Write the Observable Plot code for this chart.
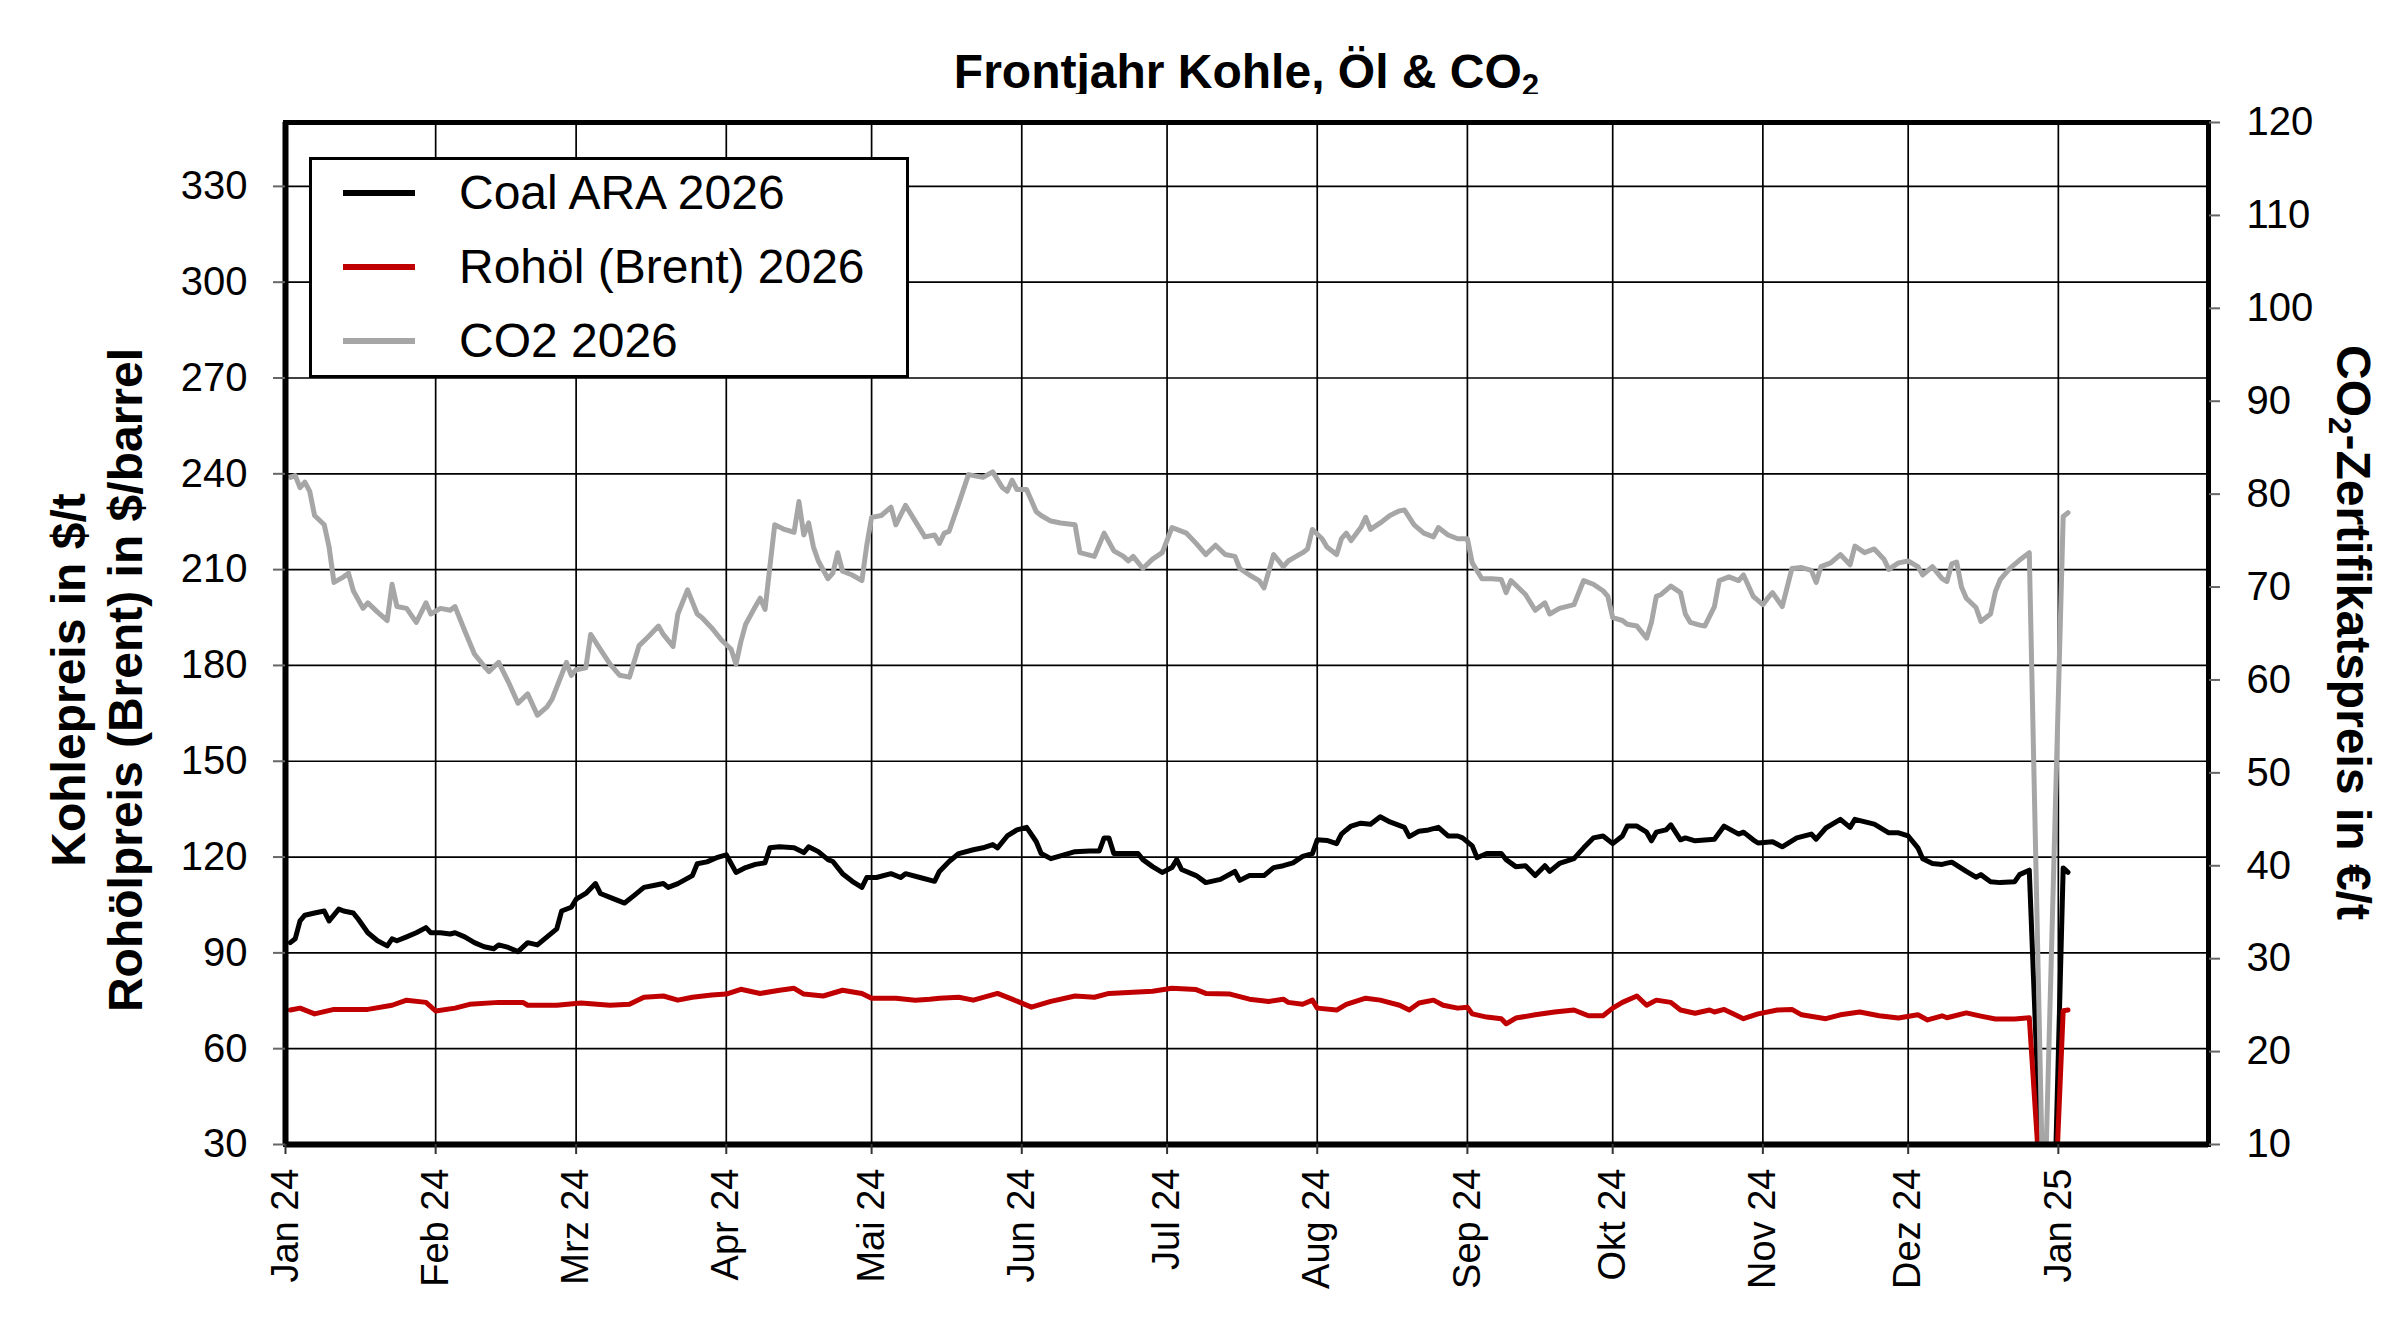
<!DOCTYPE html>
<html>
<head>
<meta charset="utf-8">
<script src="https://cdn.jsdelivr.net/npm/d3@7"></script>
<script src="https://cdn.jsdelivr.net/npm/@observablehq/plot@0.6"></script>
<style>
  html, body { margin: 0; padding: 0; background: #fff; }
  #page { position: relative; width: 2400px; height: 1319px; overflow: hidden; background: #fff;
          font-family: "Liberation Sans", Arial, sans-serif; color: #000; }
  #title { position: absolute; left: 285px; width: 1923px; top: 44px; text-align: center;
           font-size: 48px; line-height: 55px; font-weight: bold; white-space: nowrap; }
  sub { font-size: 0.65em; vertical-align: -0.25em; line-height: 0; }
  #chart { position: absolute; left: 0; top: 94px; }
  #legend { position: absolute; left: 309px; top: 157px; width: 600px; height: 221px;
            box-sizing: border-box; border: 3px solid #000; background: #fff; }
  .lg-line { position: absolute; left: 31px; width: 72px; height: 6px; }
  .lg-text { position: absolute; left: 147px; font-size: 48px; line-height: 56px; white-space: nowrap; }
  .ytitle { position: absolute; font-size: 48px; font-weight: bold; text-align: center; white-space: nowrap; }
  #ytitleL { left: -303px; top: 623px; width: 800px; line-height: 57px; transform: rotate(-90deg); }
  #ytitleR { left: 1953px; top: 604px; width: 800px; line-height: 57px; transform: rotate(90deg); }
</style>
</head>
<body>
<div id="page">
  <div id="title">Frontjahr Kohle, Öl &amp; CO<sub>2</sub></div>
  <div id="chart"></div>
  <div id="legend"></div>
  <div class="ytitle" id="ytitleL">Kohlepreis in $/t<br>Rohölpreis (Brent) in $/barrel</div>
  <div class="ytitle" id="ytitleR">CO<sub>2</sub>-Zertifikatspreis in €/t</div>
</div>
<script>
// ---- tick labels / axis values ----
const leftTicks = [30, 60, 90, 120, 150, 180, 210, 240, 270, 300, 330];
const leftDomain = [30, 350];
const rightTicks = [10, 20, 30, 40, 50, 60, 70, 80, 90, 100, 110, 120];
const rightDomain = [10, 120];
const monthStarts = ["2024-01-01","2024-02-01","2024-03-01","2024-04-01","2024-05-01","2024-06-01",
  "2024-07-01","2024-08-01","2024-09-01","2024-10-01","2024-11-01","2024-12-01","2025-01-01"];
const monthLabels = ["Jan 24","Feb 24","Mrz 24","Apr 24","Mai 24","Jun 24","Jul 24","Aug 24",
  "Sep 24","Okt 24","Nov 24","Dez 24","Jan 25"];
const xDomain = ["2024-01-01", "2025-02-01"];

// ---- series names ----
const seriesNames = ["Coal ARA 2026", "Rohöl (Brent) 2026", "CO2 2026"];
const seriesColors = ["#000000", "#c00000", "#a6a6a6"];

// ---- Coal ARA 2026 ($/t) ----
const coal = [
["2024-01-02",93.2],["2024-01-03",94.4],["2024-01-04",100],["2024-01-05",101.8],["2024-01-07",102.5],["2024-01-09",103.1],["2024-01-10",100],["2024-01-12",103.7],["2024-01-13",103.1],["2024-01-15",102.5],["2024-01-16",100.6],["2024-01-18",96.3],["2024-01-20",93.8],["2024-01-22",92.2],["2024-01-23",94.4],["2024-01-24",93.8],["2024-01-26",95],["2024-01-28",96.3],["2024-01-30",97.9],["2024-01-31",96.3],
["2024-02-02",96.3],["2024-02-04",95.9],["2024-02-05",96.3],["2024-02-07",95],["2024-02-09",93.2],["2024-02-11",91.9],["2024-02-13",91.3],["2024-02-14",92.5],["2024-02-16",91.7],["2024-02-18",90.4],["2024-02-20",93.2],["2024-02-22",92.5],["2024-02-24",95],["2024-02-26",97.5],["2024-02-27",103.1],["2024-02-29",104.3],
["2024-03-01",106.8],["2024-03-03",108.6],["2024-03-05",111.7],["2024-03-06",108.6],["2024-03-08",107.4],["2024-03-11",105.6],["2024-03-13",108],["2024-03-15",110.5],["2024-03-17",111.1],["2024-03-19",111.7],["2024-03-20",110.5],["2024-03-22",111.7],["2024-03-25",114.2],["2024-03-26",117.9],["2024-03-28",118.5],["2024-03-30",119.8],
["2024-04-01",120.7],["2024-04-03",115.2],["2024-04-05",116.7],["2024-04-07",117.7],["2024-04-09",118.2],["2024-04-10",122.9],["2024-04-12",123.2],["2024-04-15",122.9],["2024-04-17",121.4],["2024-04-18",123.2],["2024-04-20",121.7],["2024-04-22",119.2],["2024-04-23",118.6],["2024-04-25",114.8],["2024-04-27",112.4],["2024-04-29",110.5],["2024-04-30",113.6],
["2024-05-02",113.6],["2024-05-05",114.8],["2024-05-07",113.6],["2024-05-08",114.8],["2024-05-11",113.6],["2024-05-14",112.4],["2024-05-15",115.5],["2024-05-17",118.6],["2024-05-19",121.1],["2024-05-22",122.3],["2024-05-24",122.9],["2024-05-26",123.9],["2024-05-27",122.9],["2024-05-29",126.6],["2024-05-31",128.5],
["2024-06-02",129.3],["2024-06-04",124.8],["2024-06-05",121.1],["2024-06-07",119.5],["2024-06-09",120.4],["2024-06-12",121.7],["2024-06-15",121.9],["2024-06-17",121.9],["2024-06-18",126],["2024-06-19",126],["2024-06-20",121.1],["2024-06-23",121.1],["2024-06-25",121.1],["2024-06-26",119.2],["2024-06-28",117],["2024-06-30",115.2],
["2024-07-02",116.7],["2024-07-03",119.2],["2024-07-04",116.1],["2024-07-07",114.2],["2024-07-09",112],["2024-07-12",113],["2024-07-15",115.5],["2024-07-16",112.7],["2024-07-18",114.2],["2024-07-21",114.2],["2024-07-23",116.7],["2024-07-25",117.3],["2024-07-27",118.2],["2024-07-29",120.2],["2024-07-31",121.1],
["2024-08-01",125.4],["2024-08-03",125.2],["2024-08-05",124.2],["2024-08-06",127.2],["2024-08-07",128.5],["2024-08-08",129.7],["2024-08-10",130.6],["2024-08-12",130.3],["2024-08-14",132.6],["2024-08-16",131],["2024-08-19",129.3],["2024-08-20",126.4],["2024-08-22",128.1],["2024-08-24",128.5],["2024-08-26",129.3],["2024-08-28",126.6],["2024-08-30",126.6],["2024-08-31",126],
["2024-09-02",123.5],["2024-09-03",119.8],["2024-09-05",121.1],["2024-09-08",121.1],["2024-09-09",119.2],["2024-09-11",117],["2024-09-13",117.3],["2024-09-15",114.2],["2024-09-17",117.3],["2024-09-18",115.5],["2024-09-20",118],["2024-09-23",119.5],["2024-09-25",122.9],["2024-09-27",126],["2024-09-29",126.6],
["2024-10-01",124.2],["2024-10-03",126.6],["2024-10-04",129.7],["2024-10-06",129.7],["2024-10-08",127.8],["2024-10-09",125.1],["2024-10-10",127.8],["2024-10-12",128.5],["2024-10-13",130.1],["2024-10-15",125.4],["2024-10-16",126],["2024-10-18",125.1],["2024-10-22",125.6],["2024-10-24",129.7],["2024-10-27",127.2],["2024-10-28",127.8],["2024-10-30",125.4],["2024-10-31",124.4],
["2024-11-03",124.8],["2024-11-05",123.2],["2024-11-08",126],["2024-11-11",127.2],["2024-11-12",125.6],["2024-11-14",129.1],["2024-11-17",131.8],["2024-11-19",129.3],["2024-11-20",131.8],["2024-11-24",130.3],["2024-11-27",127.6],["2024-11-29",127.6],
["2024-12-01",126.6],["2024-12-03",122.9],["2024-12-04",119.5],["2024-12-06",118],["2024-12-08",117.7],["2024-12-09",118.1],["2024-12-10",118.4],["2024-12-13",115.5],["2024-12-15",113.7],["2024-12-16",114.5],["2024-12-18",112.3],["2024-12-20",112],["2024-12-23",112.3],["2024-12-24",114.5],["2024-12-26",115.9],
["2024-12-29",0],["2024-12-30",0],["2024-12-31",0],["2025-01-02",116.6],["2025-01-03",115.2]
];

// ---- Rohöl (Brent) 2026 ($/barrel) ----
const oil = [
["2024-01-02",72.1],["2024-01-04",72.7],["2024-01-07",70.9],["2024-01-11",72.3],["2024-01-18",72.3],["2024-01-23",73.6],["2024-01-26",75.2],["2024-01-30",74.5],
["2024-02-01",71.8],["2024-02-05",72.7],["2024-02-08",73.9],["2024-02-14",74.5],["2024-02-19",74.5],["2024-02-20",73.6],["2024-02-26",73.6],
["2024-03-02",74.3],["2024-03-08",73.6],["2024-03-12",73.9],["2024-03-15",76.1],["2024-03-19",76.5],["2024-03-22",75.2],["2024-03-25",76.1],["2024-03-29",76.8],
["2024-04-01",77.1],["2024-04-04",78.6],["2024-04-08",77.3],["2024-04-12",78.3],["2024-04-15",78.9],["2024-04-17",77.1],["2024-04-21",76.5],["2024-04-25",78.3],["2024-04-29",77.3],
["2024-05-01",75.8],["2024-05-06",75.8],["2024-05-10",75.2],["2024-05-13",75.5],["2024-05-15",75.8],["2024-05-19",76.1],["2024-05-22",75.2],["2024-05-27",77.3],["2024-05-30",75.5],
["2024-06-03",73],["2024-06-07",74.8],["2024-06-12",76.5],["2024-06-16",76.1],["2024-06-19",77.3],["2024-06-24",77.7],["2024-06-28",78],
["2024-07-02",78.9],["2024-07-07",78.5],["2024-07-09",77.3],["2024-07-14",77.1],["2024-07-18",75.5],["2024-07-22",74.8],["2024-07-25",75.5],["2024-07-26",74.5],["2024-07-29",73.9],["2024-07-31",75.2],
["2024-08-01",72.7],["2024-08-05",72.1],["2024-08-07",73.9],["2024-08-11",75.8],["2024-08-14",75.2],["2024-08-18",73.6],["2024-08-20",72.1],["2024-08-22",74.3],["2024-08-25",75.2],["2024-08-27",73.6],["2024-08-30",72.7],
["2024-09-01",73],["2024-09-02",70.9],["2024-09-05",69.9],["2024-09-08",69.4],["2024-09-09",67.8],["2024-09-11",69.6],["2024-09-15",70.6],["2024-09-19",71.5],["2024-09-23",72.1],["2024-09-26",70.3],["2024-09-29",70.3],
["2024-10-01",72.7],["2024-10-03",74.5],["2024-10-06",76.5],["2024-10-08",73.6],["2024-10-10",75.2],["2024-10-13",74.5],["2024-10-15",72.1],["2024-10-18",71.1],["2024-10-21",72.1],["2024-10-22",71.5],["2024-10-24",72.3],["2024-10-28",69.4],["2024-10-31",70.9],
["2024-11-04",72.1],["2024-11-07",72.3],["2024-11-09",70.6],["2024-11-14",69.4],["2024-11-17",70.6],["2024-11-21",71.5],["2024-11-25",70.3],["2024-11-29",69.6],
["2024-12-03",70.6],["2024-12-05",69],["2024-12-08",70.3],["2024-12-09",69.7],["2024-12-13",71.2],["2024-12-16",70.2],["2024-12-19",69.3],["2024-12-23",69.3],["2024-12-26",69.7],
["2024-12-29",0],["2024-12-30",0],["2024-12-31",0],["2025-01-02",71.9],["2025-01-03",72.1]
];

// ---- CO2 2026 (€/t, right axis) ----
const co2 = [
["2024-01-02",81.8],["2024-01-03",82.0],["2024-01-04",80.7],["2024-01-05",81.3],["2024-01-06",80.3],["2024-01-07",77.7],["2024-01-09",76.7],["2024-01-10",74.3],["2024-01-11",70.5],["2024-01-13",71.1],["2024-01-14",71.5],["2024-01-15",69.6],["2024-01-17",67.7],["2024-01-18",68.3],["2024-01-20",67.3],["2024-01-22",66.4],["2024-01-23",70.3],["2024-01-24",67.9],["2024-01-26",67.7],["2024-01-28",66.2],["2024-01-30",68.3],["2024-01-31",67.1],
["2024-02-02",67.7],["2024-02-04",67.5],["2024-02-05",67.9],["2024-02-07",65.3],["2024-02-09",62.8],["2024-02-11",61.5],["2024-02-12",60.9],["2024-02-14",61.9],["2024-02-16",59.8],["2024-02-18",57.5],["2024-02-20",58.5],["2024-02-22",56.2],["2024-02-24",57.1],["2024-02-25",57.9],["2024-02-28",61.9],["2024-02-29",60.5],
["2024-03-01",61.1],["2024-03-03",61.3],["2024-03-04",64.9],["2024-03-06",63.3],["2024-03-08",61.7],["2024-03-10",60.5],["2024-03-12",60.3],["2024-03-14",63.7],["2024-03-16",64.7],["2024-03-18",65.8],["2024-03-19",64.9],["2024-03-21",63.6],["2024-03-22",67.1],["2024-03-24",69.7],["2024-03-26",67.1],["2024-03-27",66.7],["2024-03-29",65.6],["2024-03-31",64.3],
["2024-04-02",63.3],["2024-04-03",61.7],["2024-04-04",64.1],["2024-04-05",66.0],["2024-04-07",67.9],["2024-04-08",68.8],["2024-04-09",67.6],["2024-04-10",72.2],["2024-04-11",76.7],["2024-04-13",76.2],["2024-04-15",75.9],["2024-04-16",79.2],["2024-04-17",75.6],["2024-04-18",76.9],["2024-04-19",74.3],["2024-04-20",72.8],["2024-04-22",70.9],["2024-04-23",71.5],["2024-04-24",73.7],["2024-04-25",71.7],["2024-04-27",71.3],["2024-04-29",70.7],["2024-04-30",74.5],
["2024-05-01",77.5],["2024-05-03",77.7],["2024-05-05",78.6],["2024-05-06",76.7],["2024-05-08",78.8],["2024-05-10",77.1],["2024-05-12",75.4],["2024-05-14",75.6],["2024-05-15",74.7],["2024-05-16",75.8],["2024-05-17",76.0],["2024-05-19",79.0],["2024-05-21",82.1],["2024-05-24",81.8],["2024-05-26",82.4],["2024-05-28",80.7],["2024-05-29",80.3],["2024-05-30",81.5],["2024-05-31",80.5],
["2024-06-02",80.5],["2024-06-04",78.1],["2024-06-05",77.7],["2024-06-07",77.1],["2024-06-09",76.9],["2024-06-12",76.7],["2024-06-13",73.7],["2024-06-16",73.3],["2024-06-18",75.8],["2024-06-20",73.9],["2024-06-22",73.3],["2024-06-23",72.8],["2024-06-24",73.3],["2024-06-26",72.0],["2024-06-28",73.0],["2024-06-30",73.7],
["2024-07-02",76.4],["2024-07-03",76.2],["2024-07-05",75.8],["2024-07-07",74.7],["2024-07-09",73.5],["2024-07-11",74.5],["2024-07-13",73.5],["2024-07-15",73.3],["2024-07-16",72.0],["2024-07-18",71.3],["2024-07-20",70.7],["2024-07-21",69.9],["2024-07-23",73.5],["2024-07-25",72.2],["2024-07-26",72.8],["2024-07-28",73.4],["2024-07-29",73.7],["2024-07-30",74.1],["2024-07-31",76.2],
["2024-08-02",75.2],["2024-08-03",74.3],["2024-08-05",73.5],["2024-08-06",75.2],["2024-08-07",75.8],["2024-08-08",75.0],["2024-08-10",76.4],["2024-08-11",77.5],["2024-08-12",76.2],["2024-08-14",76.9],["2024-08-16",77.7],["2024-08-18",78.2],["2024-08-19",78.3],["2024-08-21",76.7],["2024-08-23",75.8],["2024-08-25",75.4],["2024-08-26",76.4],["2024-08-28",75.6],["2024-08-30",75.2],
["2024-09-01",75.2],["2024-09-02",72.6],["2024-09-04",70.9],["2024-09-06",70.9],["2024-09-08",70.8],["2024-09-09",69.4],["2024-09-10",70.7],["2024-09-13",69.2],["2024-09-15",67.5],["2024-09-17",68.3],["2024-09-18",67.1],["2024-09-20",67.7],["2024-09-23",68.1],["2024-09-25",70.7],["2024-09-27",70.3],["2024-09-29",69.6],["2024-09-30",69.0],
["2024-10-01",66.7],["2024-10-03",66.4],["2024-10-04",66.0],["2024-10-06",65.8],["2024-10-08",64.5],["2024-10-09",66.2],["2024-10-10",69.0],["2024-10-11",69.2],["2024-10-13",70.1],["2024-10-15",69.4],["2024-10-16",67.1],["2024-10-17",66.2],["2024-10-19",65.9],["2024-10-20",65.8],["2024-10-22",67.9],["2024-10-23",70.7],["2024-10-25",71.1],["2024-10-27",70.7],["2024-10-28",71.3],["2024-10-30",69.0],
["2024-11-01",68.1],["2024-11-02",68.8],["2024-11-03",69.4],["2024-11-05",67.9],["2024-11-07",72.0],["2024-11-09",72.1],["2024-11-11",71.8],["2024-11-12",70.5],["2024-11-13",72.2],["2024-11-15",72.6],["2024-11-17",73.5],["2024-11-19",72.4],["2024-11-20",74.4],["2024-11-22",73.7],["2024-11-24",74.1],["2024-11-26",73.0],["2024-11-27",71.9],["2024-11-29",72.6],
["2024-12-01",72.8],["2024-12-03",72.2],["2024-12-04",71.3],["2024-12-06",72.2],["2024-12-08",70.9],["2024-12-09",70.6],["2024-12-10",72.5],["2024-12-11",72.7],["2024-12-12",70.0],["2024-12-13",68.8],["2024-12-15",67.8],["2024-12-16",66.3],["2024-12-18",67.1],["2024-12-19",69.5],["2024-12-20",70.8],["2024-12-22",72.0],["2024-12-24",72.9],["2024-12-26",73.7],
["2024-12-29",0],["2025-01-02",77.6],["2025-01-03",78.0]
];

// ---- secondary axis mapping (right scale -> left scale) ----
const toLeft = r => leftDomain[0] + (r - rightDomain[0]) * (leftDomain[1] - leftDomain[0]) / (rightDomain[1] - rightDomain[0]);
const toRight = v => rightDomain[0] + (v - leftDomain[0]) * (rightDomain[1] - rightDomain[0]) / (leftDomain[1] - leftDomain[0]);

const parse = s => new Date(s + "T00:00:00Z");
const monthDates = monthStarts.map(parse);
const labelByTime = new Map(monthDates.map((d, i) => [+d, monthLabels[i]]));

const svgHeight = 1225;
const chart = Plot.plot({
  width: 2400,
  height: svgHeight,
  marginLeft: 285,
  marginRight: 192,
  marginTop: 28,
  marginBottom: 175,
  style: { fontFamily: "'Liberation Sans', Arial, sans-serif", fontSize: "40px", color: "#000", background: "#fff", overflow: "visible" },
  x: { type: "utc", domain: xDomain.map(parse) },
  y: { domain: leftDomain },
  marks: [
    Plot.gridY(leftTicks, { stroke: "#000", strokeOpacity: 1, strokeWidth: 1.7 }),
    Plot.gridX(monthDates, { stroke: "#000", strokeOpacity: 1, strokeWidth: 1.7 }),
    Plot.line(coal, { x: d => parse(d[0]), y: d => d[1], stroke: seriesColors[0], strokeWidth: 5, strokeLinejoin: "round", clip: true }),
    Plot.line(oil, { x: d => parse(d[0]), y: d => d[1], stroke: seriesColors[1], strokeWidth: 5, strokeLinejoin: "round", clip: true }),
    Plot.line(co2, { x: d => parse(d[0]), y: d => toLeft(d[1]), stroke: seriesColors[2], strokeWidth: 5, strokeLinejoin: "round", clip: true }),
    Plot.frame({ stroke: "#000", strokeWidth: 5 }),
    Plot.ruleY([leftDomain[0]], { stroke: "#000", strokeWidth: 6 }),
    Plot.ruleX([parse(xDomain[0])], { stroke: "#000", strokeWidth: 6 }),
    Plot.axisY(leftTicks, { anchor: "left", tickSize: 12, tickPadding: 26, stroke: "#666", strokeWidth: 2, fontSize: 40, label: null }),
    Plot.axisY(rightTicks.map(toLeft), { anchor: "right", tickSize: 11, tickPadding: 27, stroke: "#666", strokeWidth: 2, fontSize: 40, label: null,
      tickFormat: v => String(Math.round(toRight(v))) }),
    Plot.axisX(monthDates, { anchor: "bottom", tickSize: 10, tickPadding: 14, tickRotate: -90, stroke: "#333", strokeWidth: 2, fontSize: 38, label: null,
      tickFormat: d => labelByTime.get(+d) })
  ]
});
document.getElementById("chart").appendChild(chart);

// ---- legend ----
const legend = document.getElementById("legend");
const rowCenters = [36, 110, 184];
seriesNames.forEach((name, i) => {
  const ln = document.createElement("div");
  ln.className = "lg-line";
  ln.style.top = (rowCenters[i] - 3 - 3) + "px";
  ln.style.background = seriesColors[i];
  legend.appendChild(ln);
  const tx = document.createElement("div");
  tx.className = "lg-text";
  tx.style.top = (rowCenters[i] - 3 - 28) + "px";
  tx.textContent = name;
  legend.appendChild(tx);
});
</script>
</body>
</html>
